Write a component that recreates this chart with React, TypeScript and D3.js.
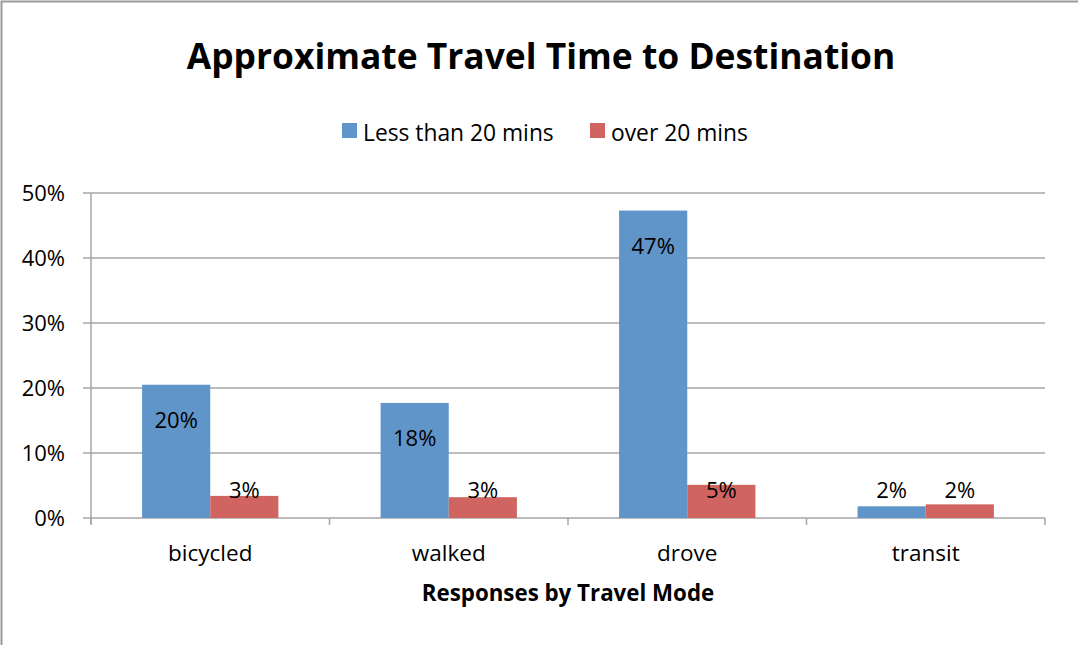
import React from "react";
import * as d3 from "d3";

const categories = ["bicycled", "walked", "drove", "transit"];
const seriesNames = ["Less than 20 mins", "over 20 mins"];
const lessThan20 = [20.5, 17.7, 47.3, 1.8];
const over20 = [3.4, 3.2, 5.1, 2.1];
const labelsLess = ["20%", "18%", "47%", "2%"];
const labelsOver = ["3%", "3%", "5%", "2%"];
const yTicks = [0, 10, 20, 30, 40, 50];
const colors = ["#6095CA", "#CF6460"];

const W = 1078;
const H = 645;
const FONT = "'Open Sans', Lato, sans-serif";

export default function App() {
  const left = 91, right = 1045, top = 193, bottom = 518;
  const x = d3.scaleBand<string>().domain(categories).range([left, right]).paddingInner(0).paddingOuter(0);
  const y = d3.scaleLinear().domain([0, 50]).range([bottom, top]);
  const groupInner = d3.scaleBand<string>().domain(seriesNames).range([0, x.bandwidth()]).paddingInner(0).paddingOuter(0.75);
  const series = [lessThan20, over20];
  const labels = [labelsLess, labelsOver];

  return (
    <svg width={W} height={H} style={{ position: "absolute", left: 0, top: 0, background: "#fff" }} fontFamily={FONT}>
      <rect x={1.5} y={1.5} width={W + 50} height={H + 50} fill="#fff" stroke="#9a9a9a" strokeWidth={2} />
      <text x={541} y={69} textAnchor="middle" fontSize={35.4} fontWeight="bold" fill="#000">
        Approximate Travel Time to Destination
      </text>
      {/* legend */}
      <g>
        <rect x={342} y={123} width={15} height={15} fill={colors[0]} />
        <text x={363} y={141} fontSize={22.8} fill="#000">{seriesNames[0]}</text>
        <rect x={590} y={123} width={15} height={15} fill={colors[1]} />
        <text x={611} y={141} fontSize={22.8} fill="#000">{seriesNames[1]}</text>
      </g>
      {/* gridlines */}
      {yTicks.map((t) => (
        <g key={t}>
          <line x1={left - 8} x2={right} y1={y(t)} y2={y(t)} stroke="#a6a6a6" strokeWidth={1.5} />
          <text x={65} y={y(t) + 8} textAnchor="end" fontSize={22} fill="#000">{t}%</text>
        </g>
      ))}
      {/* axes */}
      <line x1={left} x2={left} y1={top} y2={bottom + 6} stroke="#a6a6a6" strokeWidth={1.5} />
      {[...categories.map((c) => x(c)!), right].map((v, i) => (
        <line key={i} x1={v} x2={v} y1={bottom} y2={bottom + 7} stroke="#a6a6a6" strokeWidth={1.5} />
      ))}
      {/* bars */}
      {categories.map((c, ci) => (
        <g key={c} transform={`translate(${x(c)},0)`}>
          {series.map((s, si) => {
            const bx = groupInner(seriesNames[si])!;
            const bw = groupInner.bandwidth();
            const by = y(s[ci]);
            const base = Math.min(by + 43, 498);
            return (
              <g key={si}>
                <rect x={bx} y={by} width={bw} height={bottom - by} fill={colors[si]} />
                <text x={bx + bw / 2} y={base} textAnchor="middle" fontSize={22} fill="#000">{labels[si][ci]}</text>
              </g>
            );
          })}
          <text x={x.bandwidth() / 2} y={561} textAnchor="middle" fontSize={22.5} fill="#000">{c}</text>
        </g>
      ))}
      <text x={568} y={601} textAnchor="middle" fontSize={22.3} fontWeight="bold" fill="#000">
        Responses by Travel Mode
      </text>
    </svg>
  );
}
